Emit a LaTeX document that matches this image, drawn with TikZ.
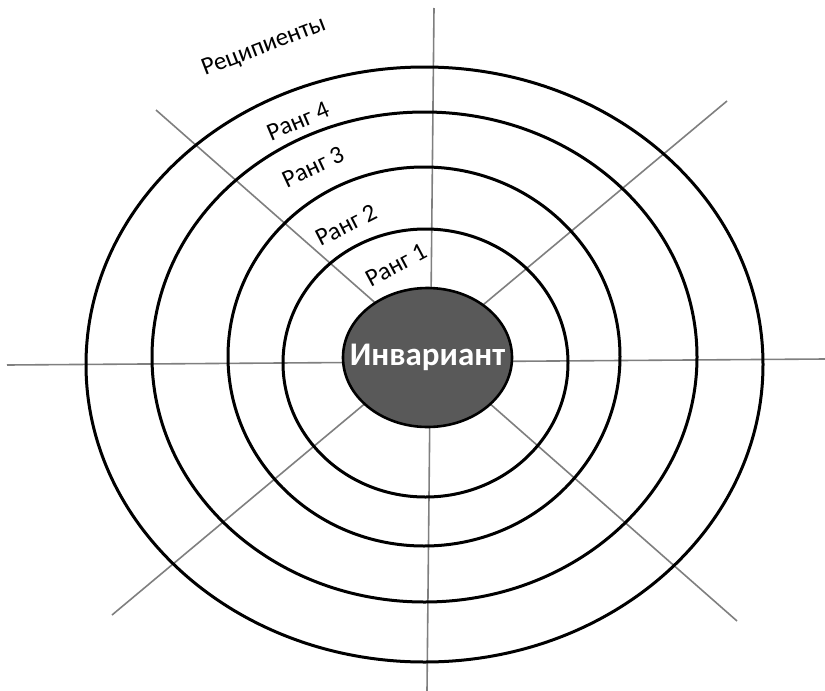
\documentclass[tikz,border=0pt]{standalone}
\usepackage{fontspec}
\setmainfont{Carlito}
\usepackage{xcolor}
\usepackage{tikz}
\usetikzlibrary{shapes.geometric, positioning}
\definecolor{coregray}{HTML}{595959}
\definecolor{axisgray}{HTML}{7F7F7F}
\tikzset{
  ring/.style={ellipse,draw=black,line width=3pt,inner sep=0pt},
  core/.style={ellipse,draw=black,fill=coregray,line width=2.6pt,inner sep=0pt},
  coretext/.style={text=white,inner sep=0pt,font=\fontsize{33}{36}\selectfont\bfseries},
  axisline/.style={draw=axisgray,line width=1.6pt},
  rank/.style={font=\fontsize{25}{28}\selectfont,inner sep=0pt}
}

\begin{document}
\begin{tikzpicture}[x=1pt,y=-1pt]
  \useasboundingbox (0,0) rectangle (825,691);

  % axes
  \coordinate (w) at (7,365);
  \coordinate (e) at (825,359);
  \coordinate (n) at (434,8);
  \coordinate (s) at (427,691);
  \coordinate (nw) at (156,110);
  \coordinate (se) at (737,621);
  \coordinate (ne) at (727,101);
  \coordinate (sw) at (112,615);
  \draw[axisline] (w) -- (e);
  \draw[axisline] (n) -- (s);
  \draw[axisline] (nw) -- (se);
  \draw[axisline] (ne) -- (sw);

  % rings
  \node[ring, minimum width=677pt, minimum height=595pt] (r4) at (424.5,364.5) {};
  \node[ring, minimum width=545pt, minimum height=490pt] (r3) at (424.5,357) {};
  \node[ring, minimum width=392pt, minimum height=379pt] (r2) at (424,356.5) {};
  \node[ring, minimum width=285pt, minimum height=268pt] (r1) at (425.5,363) {};
  \node[core, minimum width=169pt, minimum height=139pt] (inv) at (427.5,357.5) {};
  \node[coretext] (invtext) at (inv.center) {Инвариант};

  % labels
  \node[rank, rotate=21] (rec) at (264,47) {Реципиенты};
  \node[rank, rotate=23] (k4) at (298,121) {Ранг 4};
  \node[rank, rotate=25] (k3) at (313,167) {Ранг 3};
  \node[rank, rotate=27] (k2) at (346,225) {Ранг 2};
  \node[rank, rotate=28] (k1) at (396,265) {Ранг 1};
\end{tikzpicture}
\end{document}
